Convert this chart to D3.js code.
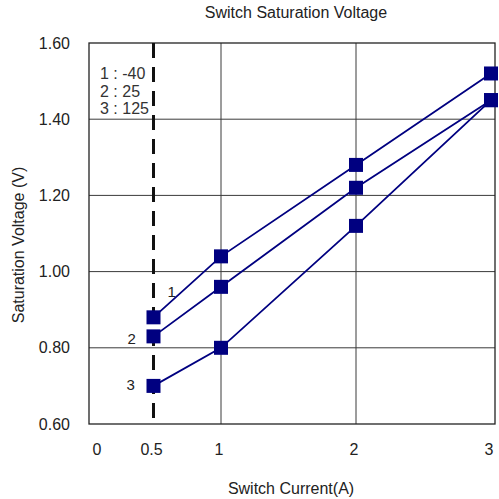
<!DOCTYPE html>
<html>
<head>
<meta charset="utf-8">
<script src="https://cdn.jsdelivr.net/npm/d3@7"></script>
<style>
  body { margin: 0; background: #fff; }
  text { font-family: "Liberation Sans", Arial, sans-serif; }
</style>
</head>
<body>
<script>
// switch current (A)
let currents = [0.5, 1, 2, 3];
let seriesNames = ["1", "2", "3"];
let temps = ["-40", "25", "125"];
let volts = [
    [0.88, 1.04, 1.28, 1.52],
    [0.83, 0.96, 1.22, 1.45],
    [0.70, 0.80, 1.12, 1.45]
];
let yTicks = [0.60, 0.80, 1.00, 1.20, 1.40, 1.60];
let xTicks = [0, 0.5, 1, 2, 3];
let gridX = [1, 2];
let dashedX = 0.5;

let W = 499, H = 499;
let box = {left: 89, right: 495, top: 43, bottom: 424};
let fs = 16;

let svg = d3.select("body").append("svg")
    .attr("width", W)
    .attr("height", H);

let x = d3.scaleLinear().domain([0, 3]).range([86, 491]);
let y = d3.scaleLinear().domain([0.6, 1.6]).range([box.bottom, box.top]);

// grid
svg.selectAll(".hgrid")
    .data(yTicks.slice(1, -1))
    .enter().append("line")
    .attr("x1", box.left).attr("x2", box.right)
    .attr("y1", d => y(d)).attr("y2", d => y(d))
    .attr("stroke", "#3a3a3a").attr("stroke-width", 1);

svg.selectAll(".vgrid")
    .data(gridX)
    .enter().append("line")
    .attr("x1", d => x(d)).attr("x2", d => x(d))
    .attr("y1", box.top).attr("y2", box.bottom)
    .attr("stroke", "#3a3a3a").attr("stroke-width", 1);

// frame
svg.append("rect")
    .attr("x", box.left).attr("y", box.top)
    .attr("width", box.right - box.left)
    .attr("height", box.bottom - box.top)
    .attr("fill", "none")
    .attr("stroke", "#222").attr("stroke-width", 1.3);

// dashed line at 0.5 A
svg.append("line")
    .attr("x1", x(dashedX)).attr("x2", x(dashedX))
    .attr("y1", box.top).attr("y2", box.bottom)
    .attr("stroke", "#111").attr("stroke-width", 3)
    .attr("stroke-dasharray", "15,9");

// tick labels
svg.selectAll(".ylab")
    .data(yTicks)
    .enter().append("text")
    .attr("x", 70)
    .attr("y", d => y(d))
    .attr("dy", "0.35em")
    .attr("text-anchor", "end")
    .attr("font-size", fs)
    .attr("fill", "#222")
    .text(d => d.toFixed(2));

svg.selectAll(".xlab")
    .data(xTicks)
    .enter().append("text")
    .attr("x", d => d === 0 ? x(d) + 11 : x(d) - 2)
    .attr("y", 455)
    .attr("text-anchor", "middle")
    .attr("font-size", fs)
    .attr("fill", "#222")
    .text(d => d);

// titles
svg.append("text")
    .attr("x", 296).attr("y", 18)
    .attr("text-anchor", "middle")
    .attr("font-size", fs)
    .attr("fill", "#222")
    .text("Switch Saturation Voltage");

svg.append("text")
    .attr("x", 291).attr("y", 494)
    .attr("text-anchor", "middle")
    .attr("font-size", fs)
    .attr("fill", "#222")
    .text("Switch Current(A)");

svg.append("text")
    .attr("transform", "translate(24,245) rotate(-90)")
    .attr("text-anchor", "middle")
    .attr("font-size", fs)
    .attr("fill", "#222")
    .text("Saturation Voltage (V)");

// legend
svg.selectAll(".legend")
    .data(seriesNames)
    .enter().append("text")
    .attr("x", 100)
    .attr("y", (d, i) => 79 + i * 17.5)
    .attr("font-size", fs)
    .attr("fill", "#333")
    .text((d, i) => d + " : " + temps[i]);

// series
let line = d3.line()
    .x((d, i) => x(currents[i]))
    .y(d => y(d));

svg.selectAll(".series")
    .data(volts)
    .enter().append("path")
    .attr("d", d => line(d))
    .attr("fill", "none")
    .attr("stroke", "#000080")
    .attr("stroke-width", 1.8);

let ms = 14;
volts.forEach(function (s) {
    svg.selectAll(null)
        .data(s)
        .enter().append("rect")
        .attr("x", (d, i) => x(currents[i]) - ms / 2)
        .attr("y", d => y(d) - ms / 2)
        .attr("width", ms).attr("height", ms)
        .attr("fill", "#000080");
});

// series number labels beside the 0.5 A points
let labelOffset = [[14, -26], [-26, 2], [-27, -1]];
svg.selectAll(".snum")
    .data(seriesNames)
    .enter().append("text")
    .attr("x", (d, i) => x(currents[0]) + labelOffset[i][0])
    .attr("y", (d, i) => y(volts[i][0]) + labelOffset[i][1])
    .attr("dy", "0.35em")
    .attr("font-size", fs - 1)
    .attr("fill", "#222")
    .text(d => d);
</script>
</body>
</html>
